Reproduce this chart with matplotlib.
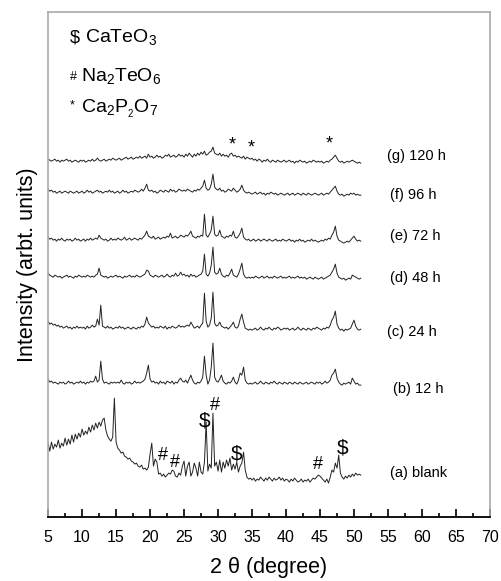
import numpy as np
import matplotlib.pyplot as plt

plt.rcParams['font.family'] = ['Liberation Sans', 'DejaVu Sans']
plt.rcParams['mathtext.fontset'] = 'custom'
plt.rcParams['mathtext.rm'] = 'Liberation Sans'
plt.rcParams['mathtext.default'] = 'regular'

# 2theta scan, 0.25 deg step
two_theta = np.arange(5, 51.001, 0.25)

# intensities, relative to each pattern's own baseline
blank = [37, 29, 38, 31, 36, 33, 40, 32, 37, 34, 42, 35, 41, 36, 45, 38, 46, 41, 47, 43,
         51, 45, 49, 46, 53, 48, 55, 50, 57, 52, 58, 54, 60, 62, 50, 44, 41, 39, 43, 82,
         38, 32, 30, 27, 28, 24, 23, 21, 22, 19, 18, 16, 17, 14, 13, 15, 11, 12, 10, 13,
         26, 37, 14, 21, 18, 6, 7, 4, 6, 3, 5, 7, 6, 10, 9, 4, 3, 7, 5, 14,
         19, 4, 14, 18, 4, 8, 17, 12, 4, 18, 8, 6, 18, 58, 9, 16, 12, 67, 14, 18,
         9, 20, 8, 18, 12, 20, 14, 22, 10, 16, 11, 18, 8, 14, 17, 28, 10, 3, 1, 2,
         0, 2, -1, 1, 0, 3, 1, -1, 2, 0, 3, 1, -1, 2, 0, 1, 3, 0, 2, -1,
         1, 0, -2, 1, -1, 2, 0, -2, -1, 1, -2, 0, -1, 1, -2, 0, 2, 1, 3, 5,
         4, 2, 0, -2, 1, -3, 3, 10, 8, 17, 12, 25, 7, 3, 1, 4, 2, 5, 3, 6,
         4, 7, 5, 6, 5]
h12 = [4, 1, 2, 0, 1, 0, -1, 1, 0, 1, -1, 0, 2, 0, 1, -1, 0, 1, 0, 2,
       0, 1, -1, 1, 0, 2, 1, 2, 7, 1, 3, 22, 4, 0, 1, 0, -1, 1, 0, 1,
       0, 1, 0, 3, 0, -1, 1, 0, 1, -1, 0, 2, 0, 1, 0, 1, 2, 4, 10, 18,
       4, 1, 2, 0, 1, -1, 2, 0, 1, -1, 2, 1, 0, 2, -1, 1, 0, 3, 5, 2,
       1, 3, 0, 4, 8, 3, 0, -1, 1, 0, 2, 6, 27, 8, -1, 3, 16, 40, 6, 2,
       1, 4, 8, 2, 0, -1, 1, 0, 2, 6, 1, -1, 3, 10, 8, 16, 3, 0, -1, 0,
       -1, 0, 1, -1, 0, 2, 0, -1, 1, 0, -1, 1, 0, 2, 0, -1, 1, 0, -1, 1,
       0, -1, 1, 0, -1, 1, 0, -1, 1, 0, -1, 0, 1, -1, 0, 1, 0, -1, 1, 0,
       1, -1, 0, 2, 0, 1, 3, 8, 10, 14, 5, 1, -1, -2, 0, -1, 0, 1, -1, 5,
       2, -1, 0, -2, -2]
h24 = [7, 4, 5, 3, 4, 2, 3, 1, 2, 0, 1, 2, 0, 1, -1, 1, 0, 2, 0, 1,
       0, 1, -1, 2, 0, 1, 3, 1, 2, 9, 3, 23, 2, 1, 0, 2, 0, 1, -1, 0,
       1, 0, 2, 0, 1, -1, 0, 1, 0, -1, 1, 0, -1, 1, 0, 2, 1, 4, 11, 5,
       3, 1, 2, 0, 1, 0, 2, 1, 0, 2, -1, 1, 0, 2, 1, 0, 1, 3, 1, 2,
       1, 2, 3, 2, 6, 3, 0, 1, 2, 0, 3, 5, 35, 7, 1, 3, 10, 36, 5, 2,
       3, 6, 2, 1, 0, 1, -1, 1, 3, 6, 1, 0, 2, 9, 14, 6, 0, -1, -2, -1,
       -2, -1, 0, -2, -1, 1, -1, -2, 0, -1, 1, -1, -2, 0, -1, 1, 0, -2, -1, 0,
       -1, 0, -2, -1, 0, -2, -1, 1, -1, -2, 0, -1, -2, 0, -1, -2, 0, -1, 1, 0,
       -1, -2, 0, -1, 1, 0, 3, 8, 11, 17, 4, 0, -2, -1, -3, -1, -2, -1, 0, 4,
       8, 2, -1, -2, -1]
h48 = [4, 2, 1, 0, 2, 1, 0, 1, -1, 0, 1, 2, 0, 1, 0, -1, 1, 0, 2, 1,
       0, 1, 0, 2, 1, 0, 1, 0, 2, 3, 9, 2, 1, 0, 1, -1, 0, 1, 0, 1,
       2, 0, 1, 0, -1, 1, 0, 1, 2, 0, 1, 0, 2, 1, 0, 1, 2, 3, 7, 6,
       2, 1, 0, 2, 1, 0, 1, 2, 0, 1, 3, 1, 0, 2, 1, 4, 1, 2, 5, 2,
       3, 1, 2, 0, 3, 1, 2, 0, 1, 2, 3, 6, 23, 3, 1, 4, 12, 30, 5, 3,
       4, 9, 3, 1, 0, 2, 1, 4, 8, 2, 1, 0, 3, 8, 14, 3, 0, -1, 0, -1,
       0, -1, 1, 0, -1, 0, 1, -1, 0, 1, -1, 0, -1, 1, 0, -1, 0, 1, -1, 0,
       -1, 0, 1, -1, 0, -1, 0, 1, -1, 0, -1, 0, -2, -1, 0, -1, -2, 0, -1, -2,
       -1, 0, -2, -1, 0, 1, 2, 5, 8, 13, 4, 0, -1, -2, -1, -3, -2, -1, -2, 2,
       1, 0, -1, -2, -1]
h72 = [3, 1, 2, 0, 1, -1, 1, 0, 2, 0, -1, 1, 0, 1, -1, 0, 2, 0, 1, -1,
       0, 1, -1, 1, 0, 2, 0, 1, 2, 1, 5, 2, 1, 0, 1, -1, 0, 2, 0, 1,
       0, 2, 1, 0, 1, 3, 0, 1, 2, 0, 1, 2, 1, 0, 2, 1, 3, 5, 9, 4,
       3, 2, 4, 1, 2, 3, 1, 2, 3, 2, 4, 3, 7, 2, 3, 4, 2, 3, 5, 4,
       3, 5, 4, 6, 9, 4, 3, 2, 4, 3, 5, 4, 26, 5, 3, 6, 10, 24, 6, 4,
       5, 10, 4, 3, 2, 4, 3, 5, 4, 9, 3, 2, 4, 7, 12, 3, 1, 0, 1, -1,
       0, 1, -1, 0, 1, -1, 0, 1, 0, -1, 1, 0, -1, 0, 1, -1, 0, -1, 1, 0,
       -1, 0, 1, -1, 0, -2, 0, -1, 1, -1, 0, -2, -1, 0, -1, 1, -1, 0, -1, -2,
       -1, 0, -1, 1, 0, 2, 1, 5, 8, 14, 4, 0, -1, -2, -3, -2, -1, -2, 0, 2,
       4, 1, -1, 0, -1]
h96 = [3, 1, 2, 0, 1, -1, 0, 1, -1, 0, 1, 0, -1, 1, 0, -1, 0, 1, -1, 0,
       1, -1, 0, 2, 0, 1, -1, 0, 1, 2, 0, 1, -1, 0, 1, 0, 2, 0, 1, -1,
       0, 1, -1, 0, 2, 0, 1, -1, 0, 1, 0, 2, 1, 0, 1, 3, 1, 4, 8, 2,
       1, 2, 0, 1, -1, 0, 2, 1, 0, 2, 1, 0, 3, 1, 2, 0, 1, 3, 2, 1,
       2, 1, 3, 2, 1, 0, 2, 1, 3, 2, 4, 6, 12, 4, 2, 3, 8, 18, 5, 3,
       2, 4, 1, 2, 0, 1, 3, 2, 1, 4, 2, 0, 1, 3, 7, 2, 0, -1, 0, -1,
       -2, -1, 0, -2, -1, 0, -2, -1, -3, -1, -2, 0, -1, -2, -1, -3, -2, -1, -2, -3,
       -2, -1, -3, -2, -1, -3, -2, -1, -2, -3, -1, -2, -3, -1, -2, -3, -2, -1, -2, -3,
       -2, -1, -3, -2, -1, -2, 0, 2, 4, 6, 1, -2, -3, -2, -4, -3, -2, -3, -1, -2,
       -1, -3, -2, -3, -3]
h120 = [0, -1, -2, -1, 0, -2, -1, -3, -1, -2, -1, 0, -2, -1, -3, -2, -1, -2, -3, -1,
        -2, -1, -3, -2, -1, -2, 0, -2, -1, 1, -1, -2, -1, 0, -2, -1, 0, -1, 1, 0,
        -1, 0, 1, -1, 0, 1, 2, 0, 1, 2, 0, 1, 2, 1, 3, 1, 2, 3, 1, 5,
        2, 3, 1, 2, 4, 2, 3, 1, 2, 4, 3, 5, 2, 3, 4, 2, 3, 5, 3, 4,
        2, 5, 3, 6, 4, 2, 5, 3, 6, 4, 7, 5, 8, 4, 5, 7, 8, 12, 6, 5,
        4, 6, 3, 5, 3, 4, 2, 5, 6, 3, 4, 2, 3, 2, 1, 3, 0, 2, 1, 0,
        1, -1, 0, -2, 0, -1, -3, -1, -2, 0, -2, -3, -1, -2, -3, -1, -2, -3, -2, -1,
        -3, -2, -1, -3, -2, -4, -2, -3, -1, -2, -3, -2, -4, -3, -2, -3, -1, -2, -3, -2,
        -3, -2, -4, -3, -2, -3, -1, 0, 2, 4, 1, -2, -3, -2, -4, -3, -2, -3, -2, -1,
        -2, -3, -4, -3, -4]

patterns = [blank, h12, h24, h48, h72, h96, h120]
offsets = [37, 134, 189, 240, 277, 325, 358]
labels = ['(a) blank', '(b) 12 h', '(c) 24 h', '(d) 48 h', '(e) 72 h', '(f) 96 h', '(g) 120 h']
label_x = [55.3, 55.7, 54.8, 55.3, 55.3, 55.3, 54.8]
label_y = [44, 128, 185, 239, 281, 322, 361]

# phase marks on pattern (a) and (g)
phase_sym = ['$', '#', '#', '#', '$', '#', '$']
phase_x = [28.0, 29.6, 21.9, 23.7, 32.7, 44.7, 48.3]
phase_y = [96, 112, 62, 55, 63, 53, 69]
star_x = [32.1, 34.9, 46.3]
star_y = [372, 369, 373]

fig = plt.figure(figsize=(5.01, 5.81), dpi=100)
ax = fig.add_axes([0.096, 0.110, 0.882, 0.869])

for y, off, lab, lx, ly in zip(patterns, offsets, labels, label_x, label_y):
    ax.plot(two_theta, np.array(y) + off, color='#222222', lw=0.7)
    ax.text(lx, ly, lab, fontsize=10.5, va='center', ha='left')

for s, x, y in zip(phase_sym, phase_x, phase_y):
    ax.text(x, y, '\\' + s if s == '$' else s, fontsize=15 if s == '$' else 13,
            ha='center', va='center')
for x, y in zip(star_x, star_y):
    ax.text(x, y, '*', fontsize=13, ha='center', va='center')

# phase legend
ax.text(8.2, 475, r'\$', fontsize=13, va='baseline')
ax.text(10.4, 475, r'CaTeO$_3$', fontsize=14, va='baseline')
ax.text(8.2, 437, '#', fontsize=9, va='baseline')
ax.text(9.9, 436, r'Na$_2$TeO$_6$', fontsize=14, va='baseline')
ax.text(8.2, 409, '*', fontsize=9, va='baseline')
ax.text(9.9, 404, r'Ca$_2$P$_{_2}$O$_7$', fontsize=14, va='baseline')

ax.set_xlim(5, 70)
ax.set_ylim(0, 505)
ax.set_xticks(np.arange(5, 71, 5))
ax.set_xticks(np.arange(7.5, 70, 5), minor=True)
ax.set_yticks([])
ax.tick_params(axis='x', which='major', direction='in', length=6, width=1.2,
               labelsize=11.5, pad=9)
ax.tick_params(axis='x', which='minor', direction='in', length=3, width=1.2)
for side in ['left', 'top', 'right']:
    ax.spines[side].set_color('#aaaaaa')
    ax.spines[side].set_linewidth(1.2)
ax.spines['bottom'].set_linewidth(1.3)

ax.set_xlabel('2 θ (degree)', fontsize=15.5, labelpad=9)
ax.set_ylabel('Intensity (arbt. units)', fontsize=15.5, labelpad=7)

plt.savefig('out.png', dpi=100)
